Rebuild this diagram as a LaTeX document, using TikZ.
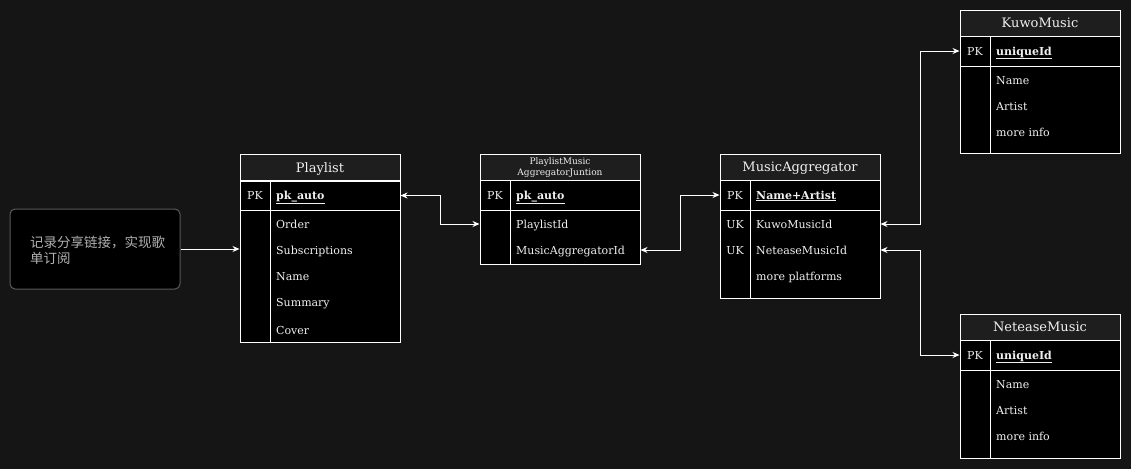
\documentclass[tikz,border=0pt]{standalone}
\usepackage{fontspec}
\setmainfont{DejaVu Serif}
\newfontfamily\cjk{Noto Sans CJK SC}
\usetikzlibrary{arrows.meta}
\definecolor{bgdark}{HTML}{151515}
\definecolor{headgray}{HTML}{1E1E1E}
\definecolor{notegray}{HTML}{5A5A5A}
\definecolor{notetext}{HTML}{B0B0B0}
\definecolor{celltext}{HTML}{F0F0F0}
\tikzset{
	tblhead/.style={draw=white, line width=1pt, fill=headgray, text=celltext, minimum width=160pt, minimum height=26pt, inner sep=0pt, text height=11.5pt, text depth=2pt, font=\fontsize{13}{15}\selectfont},
	tblpart/.style={draw=white, line width=1pt, fill=black, minimum width=160pt, inner sep=0pt},
	keytext/.style={text=celltext, font=\fontsize{11}{13}\selectfont, inner sep=0pt, text height=10pt, text depth=2pt},
	fieldtext/.style={anchor=west, text=celltext, font=\fontsize{11}{13}\selectfont, inner sep=0pt, text height=10pt, text depth=2pt},
	pkfield/.style={fieldtext, font=\fontsize{11}{13}\selectfont\bfseries},
	relarrow/.style={draw=white, line width=1pt, {Stealth[length=7pt,width=6pt]}-{Stealth[length=7pt,width=6pt]}},
	notearrow/.style={draw=white, line width=1pt, -{Stealth[length=7pt,width=6pt]}},
}
\begin{document}
\begin{tikzpicture}[x=1pt,y=-1pt]
	\useasboundingbox[fill=bgdark] (0,0) rectangle (1131,469);
	% note
	\node[draw=notegray, line width=1pt, fill=black, rounded corners=5pt, minimum width=170pt, minimum height=80pt] (note) at (95,249) {};
	\node[anchor=west, text=notetext, font=\cjk\fontsize{13.5}{16}\selectfont, align=left, inner sep=0pt] (notetxt) at (30,250) {记录分享链接，实现歌\\单订阅};
	% Playlist
	\node[tblhead] (pl) at (320,167.5) {Playlist};
	\node[tblpart, minimum height=29pt] (plpk) at (320,195.5) {};
	\node[tblpart, minimum height=132pt] (plbody) at (320,276) {};
	\draw[white, line width=1pt] (270,181) -- (270,342);
	\node[keytext] (plkey) at (255,195) {PK};
	\node[pkfield] (plid) at (276,195) {\underline{pk\_auto}};
	\foreach \y/\f/\n in {224/Order/plord,250/Subscriptions/plsub,276/Name/plname,302/Summary/plsum,330/Cover/plcov}
		\node[fieldtext] (\n) at (276,\y) {\f};
	% PlaylistMusicAggregatorJuntion
	\node[tblhead, align=center, text height=, text depth=, font=\fontsize{9}{11}\selectfont] (jn) at (560,167.5) {PlaylistMusic\\AggregatorJuntion};
	\node[tblpart, minimum height=30pt] (jnpk) at (560,195) {};
	\node[tblpart, minimum height=54pt] (jnbody) at (560,237) {};
	\draw[white, line width=1pt] (510,180) -- (510,264);
	\node[keytext] (jnkey) at (495,195) {PK};
	\node[pkfield] (jnid) at (516,195) {\underline{pk\_auto}};
	\node[fieldtext] (jnplid) at (516,224) {PlaylistId};
	\node[fieldtext] (jnmaid) at (516,250) {MusicAggregatorId};
	% MusicAggregator
	\node[tblhead] (ma) at (800,167) {MusicAggregator};
	\node[tblpart, minimum height=30pt] (mapk) at (800,195) {};
	\node[tblpart, minimum height=88pt] (mabody) at (800,254) {};
	\draw[white, line width=1pt] (750,180) -- (750,298);
	\foreach \y/\k in {195/PK,224/UK,250/UK}
		\node[keytext] at (735,\y) {\k};
	\node[pkfield] (maid) at (756,195) {\underline{Name+Artist}};
	\node[fieldtext] (makuwo) at (756,224) {KuwoMusicId};
	\node[fieldtext] (manet) at (756,250) {NeteaseMusicId};
	\node[fieldtext] (mamore) at (756,276) {more platforms};
	% KuwoMusic
	\node[tblhead] (kw) at (1040,23) {KuwoMusic};
	\node[tblpart, minimum height=30pt] (kwpk) at (1040,51) {};
	\node[tblpart, minimum height=87pt] (kwbody) at (1040,109.5) {};
	\draw[white, line width=1pt] (990,36) -- (990,153);
	\node[keytext] (kwkey) at (975,51) {PK};
	\node[pkfield] (kwid) at (996,51) {\underline{uniqueId}};
	\foreach \y/\f/\n in {80/Name/kwname,106/Artist/kwart,132/more info/kwmore}
		\node[fieldtext] (\n) at (996,\y) {\f};
	% NeteaseMusic
	\node[tblhead] (nt) at (1040,327) {NeteaseMusic};
	\node[tblpart, minimum height=30pt] (ntpk) at (1040,355) {};
	\node[tblpart, minimum height=88pt] (ntbody) at (1040,414) {};
	\draw[white, line width=1pt] (990,340) -- (990,458);
	\node[keytext] (ntkey) at (975,355) {PK};
	\node[pkfield] (ntid) at (996,355) {\underline{uniqueId}};
	\foreach \y/\f/\n in {384/Name/ntname,410/Artist/ntart,436/more info/ntmore}
		\node[fieldtext] (\n) at (996,\y) {\f};
	% relations
	\draw[notearrow] (note.east) -- (plbody.west |- note.east);
	\draw[relarrow] (plpk.east) -- ++(40,0) |- (jnpk.west |- jnplid.west);
	\draw[relarrow] (jnbody.east |- jnmaid.west) -- ++(40,0) |- (mapk.west);
	\draw[relarrow] (mabody.east |- makuwo.west) -- ++(40,0) |- (kwpk.west);
	\draw[relarrow] (mabody.east |- manet.west) -- ++(40,0) |- (ntpk.west);
\end{tikzpicture}
\end{document}
